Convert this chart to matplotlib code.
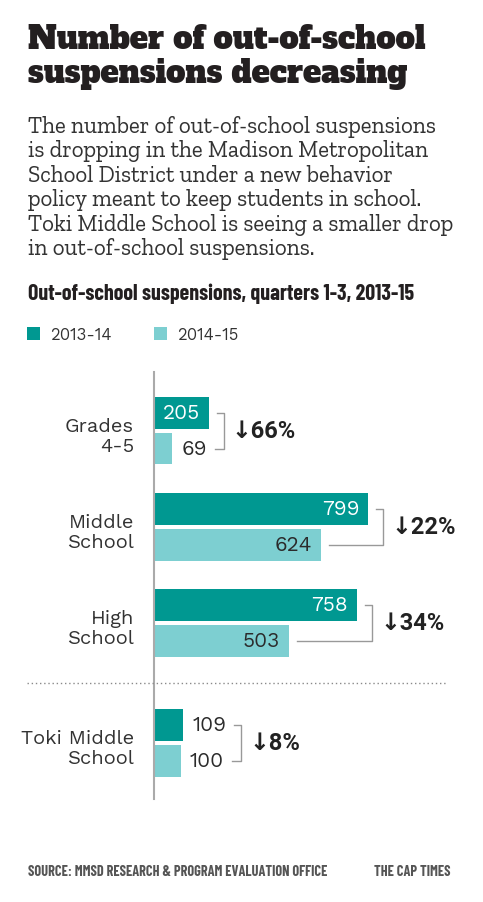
import matplotlib
matplotlib.use("Agg")
import matplotlib.pyplot as plt
from matplotlib.lines import Line2D
from matplotlib.patches import Rectangle
from matplotlib import font_manager as fm

# ---------------- data ----------------
categories = ["Grades\n4-5", "Middle\nSchool", "High\nSchool", "Toki Middle\nSchool"]
series_names = ["2013-14", "2014-15"]
values_2013_14 = [205, 799, 758, 109]
values_2014_15 = [69, 624, 503, 100]

title_lines = ["Number of out-of-school", "suspensions decreasing"]
intro_lines = [
    "The number of out-of-school suspensions",
    "is dropping in the Madison Metropolitan",
    "School District under a new behavior",
    "policy meant to keep students in school.",
    "Toki Middle School is seeing a smaller drop",
    "in out-of-school suspensions.",
]
chart_title = "Out-of-school suspensions, quarters 1-3, 2013-15"
source_text = "SOURCE: MMSD RESEARCH & PROGRAM EVALUATION OFFICE"
credit_text = "THE CAP TIMES"

# ---------------- fonts ----------------
_entries = {}
for f in fm.fontManager.ttflist:
    w = f.weight
    if not isinstance(w, int):
        w = fm.weight_dict.get(str(w), 400)
    _entries.setdefault(f.name, set()).add(int(w))


def pick(cands, weight, tol=100):
    for name in cands:
        if name in _entries and any(abs(w - weight) <= tol for w in _entries[name]):
            return name
    return None


TITLE_FAM, TITLE_W = pick(["Alfa Slab One"], 400, 0), "normal"
if TITLE_FAM is None:
    TITLE_FAM, TITLE_W = pick(["Arvo", "Zilla Slab", "DejaVu Serif"], 700) or "DejaVu Serif", "bold"
BODY_FAM = pick(["Zilla Slab", "Noticia Text", "Arvo"], 400, 0) or "DejaVu Serif"

COND_FAM, COND_W = pick(["Oswald", "Antonio", "Barlow Condensed"], 700, 100), "bold"
if COND_FAM is None:
    COND_FAM, COND_W = pick(["Fjalla One"], 400, 0), "normal"
if COND_FAM is None:
    COND_FAM, COND_W = pick(["Roboto Condensed", "Liberation Sans Narrow"], 700, 50) or "DejaVu Sans", "bold"

SANS_FAM = pick(["Work Sans", "Public Sans", "Libre Franklin", "Roboto"], 400, 0) or "DejaVu Sans"
BOLD_FAM = pick(["Work Sans", "Public Sans", "Libre Franklin", "Montserrat", "Roboto"],
                700, 50) or "DejaVu Sans"

# ---------------- style / layout ----------------
W, H = 483, 903
DARK = "#009891"
LIGHT = "#7dcfd1"
TEXT = "#333333"

group_pos = [0, 1, 2, 3.25]   # vertical slots of the groups
bar_h = 0.33
bar_off = 0.1865

fig = plt.figure(figsize=(W / 100, H / 100), dpi=100)
fig.patch.set_facecolor("white")
renderer = fig.canvas.get_renderer()


def fx(x):
    return x / W


def fy(y):
    return 1 - y / H


def fit(t, target):
    for _ in range(2):
        wpx = t.get_window_extent(renderer).width
        t.set_fontsize(t.get_fontsize() * target / wpx)


# title
for i, line in enumerate(title_lines):
    t = fig.text(fx(28), fy(49 + 33.5 * i), line, family=[TITLE_FAM, "DejaVu Serif"],
                 weight=TITLE_W, fontsize=21, color="#231f20", va="baseline", ha="left")
    if i == 0:
        fit(t, 398)
        title_fs = t.get_fontsize()
    else:
        t.set_fontsize(title_fs)

# intro
intro_fs = None
for i, line in enumerate(intro_lines):
    t = fig.text(fx(28), fy(133 + 24.4 * i), line, family=[BODY_FAM, "DejaVu Serif"],
                 fontsize=15.5, color=TEXT, va="baseline", ha="left")
    if i == 0:
        fit(t, 408)
        intro_fs = t.get_fontsize()
    else:
        t.set_fontsize(intro_fs)

# chart title
t = fig.text(fx(28), fy(300), chart_title, family=[COND_FAM, "DejaVu Sans"], weight=COND_W,
             fontsize=14, color="#231f20", va="baseline", ha="left")
fit(t, 386)

# legend
for i, (name, col) in enumerate(zip(series_names, [DARK, LIGHT])):
    x0 = 27 + 127 * i
    fig.patches.append(Rectangle((fx(x0), fy(341)), 13 / W, 13 / H,
                                 transform=fig.transFigure, facecolor=col,
                                 edgecolor="none"))
    fig.text(fx(x0 + 23), fy(335), name, family=[SANS_FAM, "DejaVu Sans"],
             fontsize=12, color=TEXT, va="center", ha="left")

# axes
ax = fig.add_axes([fx(154), fy(800), 268 / W, (800 - 373) / H])
ax.set_xlim(0, 1000)
ax.set_ylim(3.834, -0.611)
ax.patch.set_alpha(0)
for s in ["top", "right", "bottom"]:
    ax.spines[s].set_visible(False)
ax.spines["left"].set_color("#aaaaaa")
ax.spines["left"].set_linewidth(1.5)
ax.set_xticks([])
ax.set_yticks([])

y1 = [p - bar_off for p in group_pos]
y2 = [p + bar_off for p in group_pos]
ax.barh(y1, values_2013_14, height=bar_h, color=DARK, zorder=2)
ax.barh(y2, values_2014_15, height=bar_h, color=LIGHT, zorder=2)

value_texts = []
for ys, vals, inside_col in [(y1, values_2013_14, "white"), (y2, values_2014_15, "#2b2b2b")]:
    row = []
    for y, v in zip(ys, vals):
        inside = v > 150
        t = ax.annotate(f"{v}", (v, y), xytext=(-9 if inside else 9, 0),
                        textcoords="offset pixels", ha="right" if inside else "left",
                        va="center", family=[SANS_FAM, "DejaVu Sans"],
                        fontsize=15, color=inside_col if inside else "#2b2b2b", zorder=3)
        row.append((t, not inside))
    value_texts.append(row)

# category labels
for p, c in zip(group_pos, categories):
    ax.annotate(c, (0, p), xytext=(-20, -5), textcoords="offset pixels", ha="right",
                va="center", family=[SANS_FAM, "DejaVu Sans"], fontsize=14.5, color=TEXT,
                linespacing=1.15, annotation_clip=False)

# separator
sep_y = ax.transData.transform((0, 2.622))[1]
fig.lines.append(Line2D([fx(27), fx(447)], [sep_y / H, sep_y / H], transform=fig.transFigure,
                        color="#8a8a8a", lw=1, linestyle=(0, (1, 2))))

# brackets and percent change, positioned from the rendered label extents
fig.canvas.draw()
renderer = fig.canvas.get_renderer()
for i, p in enumerate(group_pos):
    ends = []
    ys_disp = []
    for r, (vals, ys) in enumerate([(values_2013_14, y1), (values_2014_15, y2)]):
        bx, by = ax.transData.transform((vals[i], ys[i]))
        t, outside = value_texts[r][i]
        if outside:
            bx = t.get_window_extent(renderer).x1
        ends.append(bx)
        ys_disp.append(by)
    bracket_x = max(ends) + 15
    xs = [ends[0] + 8, bracket_x, bracket_x, ends[1] + 8]
    yv = [ys_disp[0], ys_disp[0], ys_disp[1], ys_disp[1]]
    fig.lines.append(Line2D([x / W for x in xs], [y / H for y in yv],
                            transform=fig.transFigure, color="#999999", lw=1))
    change = round((values_2013_14[i] - values_2014_15[i]) / values_2013_14[i] * 100)
    cy = (ys_disp[0] + ys_disp[1]) / 2
    fig.text((bracket_x + 8) / W, cy / H, f"\u2193{change}%", family=[BOLD_FAM, "DejaVu Sans"],
             weight="bold", fontsize=17, color="#222222", va="center", ha="left")

# footer
t = fig.text(fx(28), fy(876), source_text, family=[COND_FAM, "DejaVu Sans"], weight=COND_W,
             fontsize=10.5, color="#555555", va="baseline", ha="left")
fit(t, 300)
t2 = fig.text(fx(451), fy(876), credit_text, family=[COND_FAM, "DejaVu Sans"], weight=COND_W,
              fontsize=t.get_fontsize(), color="#555555", va="baseline", ha="right")

fig.savefig("out.png", dpi=100, facecolor="white")
